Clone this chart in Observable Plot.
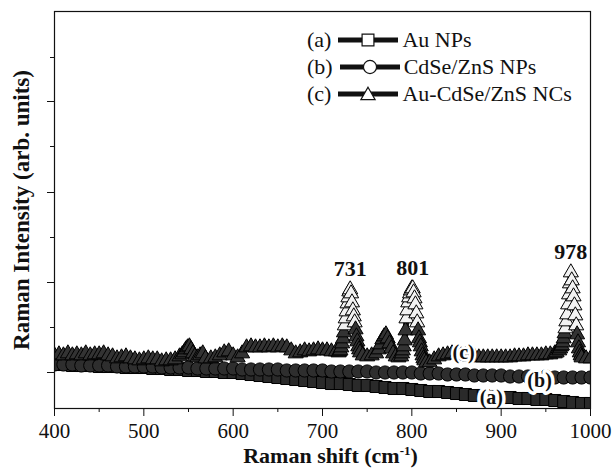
<!DOCTYPE html>
<html><head><meta charset="utf-8">
<script src="https://cdn.jsdelivr.net/npm/d3@7"></script>
<script src="https://cdn.jsdelivr.net/npm/@observablehq/plot@0.6"></script>
<style>
body{margin:0;background:#fff}
#wrap{position:relative;width:613px;height:473px;background:#fff}
#legend{position:absolute;left:307px;top:26px;font-family:'Liberation Serif','Times New Roman',serif;font-size:22px;color:#111}
#legend .row{height:27px;line-height:27px;display:flex;align-items:center;white-space:nowrap}
#legend svg{margin:0 3px 0 6px}
</style>
</head><body><div id="wrap"></div>
<script>
// ---- data ----
const shiftAB = [400,410,420,430,440,450,460,470,480,490,
                 500,510,520,530,540,550,560,570,580,590,
                 600,610,620,630,640,650,660,670,680,690,
                 700,710,720,730,740,750,760,770,780,790,
                 800,810,820,830,840,850,860,870,880,890,
                 900,910,920,930,940,950,960,970,980,990,1000];
const intensityA = [44,44,43,43,43,42,42,42,41,41,
                    41,40,40,39,39,38,38,37,37,36,
                    36,35,34,33,32,31,30,29,28,27,
                    26,25,25,24,23,23,22,21,20,20,
                    19,18,17,17,16,15,14,13,13,12,
                    11,11,10,10,9,9,8,7,6,5,5];
const intensityB = [44,44,44,43,43,43,43,42,42,42,
                    42,42,41,41,41,41,40,40,40,40,
                    40,39,39,39,39,39,38,38,38,38,
                    38,37,37,37,37,37,36,36,36,36,
                    36,35,35,35,34,34,34,33,33,33,
                    33,32,32,32,32,32,31,31,31,31,31];
const spectrumC = [
 [400,53],[405,54],[410,53],[415,55],[420,53],[425,54],[430,53],[435,55],[440,53],[445,54],
 [450,54],[455,55],[460,53],[465,52],[470,50],[475,51],[480,52],[485,50],[490,49],[495,48],
 [500,49],[505,50],[510,49],[515,49],[520,47],[525,48],[530,48],[535,49],[540,52],[543,54],
 [545,56],[547,59],[549,61],[551,62],[553,59],[555,55],[557,52],[560,51],[563,53],[566,55],
 [569,50],[575,50],[580,51],[585,53],[590,56],[595,57],[600,53],[605,51],[610,55],[615,61],
 [620,62],[625,61],[630,61],[635,62],[640,61],[645,62],[650,61],[655,62],[660,61],[665,58],
 [670,55],[675,56],[680,58],[685,57],[690,58],[695,59],[700,58],[705,58],[710,57],[715,57],
 [718,56],[719,57],[720,58],[721,61],[722,65],[723,70],[724,76],[725,83],[726,90],[727,97],
 [728,105],[729,111],[730,117],[731,119],[732,115],[733,106],[734,98],[735,92],[736,86],[737,79],
 [738,72],[739,67],[740,62],[741,59],[742,56],[745,53],[750,52],[755,53],[760,55],[763,59],
 [765,64],[767,69],[769,72],[771,74],[773,70],[775,65],[777,60],[779,55],[782,52],[785,51],
 [788,52],[789,55],[790,58],[791,62],[792,68],[793,78],[794,90],[795,98],[796,106],[797,111],
 [798,115],[799,118],[800,120],[801,120],[802,116],[803,110],[804,104],[805,95],[806,86],[807,78],
 [808,70],[809,66],[810,62],[811,57],[812,53],[813,50],[814,48],[816,46],[820,46],[825,49],
 [830,52],[835,53],[840,54],[845,55],[850,54],[855,53],[860,53],[865,52],[870,52],[875,51],
 [880,51],[885,51],[890,51],[895,51],[900,51],[905,51],[910,51],[915,52],[920,52],[925,52],
 [930,53],[935,53],[940,53],[945,53],[950,54],[955,54],[960,55],[962,56],[965,58],[966,60],
 [967,62],[968,63],[969,66],[970,70],[971,75],[972,80],[973,87],[974,94],[975,104],[976,114],
 [977,125],[978,136],[979,128],[980,120],[981,112],[982,103],[983,93],[984,83],[985,74],[986,66],
 [987,60],[988,56],[989,53],[990,51],[995,50],[1000,50]
];
const peakLabels = [731, 801, 978];
const xTicks = [400,500,600,700,800,900,1000];
const xMinorTicks = [450,550,650,750,850,950];
const yMajorTicks = [36,126,216,307];
const yMinorTicks = [81,171,262,351];
const seriesTags = ["(a)","(b)","(c)"];
const seriesNames = ["Au NPs","CdSe/ZnS NPs","Au-CdSe/ZnS NCs"];
const seriesSymbols = ["square","circle","triangle"];
const xTitle = "Raman shift (cm-1)";
const yTitle = "Raman Intensity (arb. units)";

// ---- tables ----
const dataA = shiftAB.map((x,i)=>({x, y:intensityA[i]}));
const dataB = shiftAB.map((x,i)=>({x, y:intensityB[i]}));
const dataC = spectrumC.map(([x,y])=>({x,y}));
const valAt = (data, x) => data.reduce((b,d)=> Math.abs(d.x-x) < Math.abs(b.x-x) ? d : b).y;
const peakY = p => d3.max(dataC.filter(d=>Math.abs(d.x-p)<=4), d=>d.y);
const baseC = d3.median(dataC, d=>d.y);

const serif = "'Liberation Serif','Times New Roman',serif";
const ink = "#141414";

const plot = Plot.plot({
  width: 613, height: 473,
  marginLeft: 54, marginRight: 23, marginTop: 11, marginBottom: 65,
  x: {domain: [400, 1000]},
  y: {domain: [0, 397]},
  style: {fontFamily: serif, background: "white", color: "black"},
  marks: [
    Plot.line(dataA, {x:"x", y:"y", stroke: ink, strokeWidth: 6, clip: true}),
    Plot.dot(dataA, {x:"x", y:"y", symbol:"square", r: 6.8, fill:"#2a2a2a", stroke:"#000", strokeWidth: 1, clip: true}),
    Plot.line(dataB, {x:"x", y:"y", stroke: ink, strokeWidth: 6, clip: true}),
    Plot.dot(dataB, {x:"x", y:"y", symbol:"circle", r: 6.6, fill:"#2e2e2e", stroke:"#000", strokeWidth: 1, clip: true}),
    Plot.line(dataC, {x:"x", y:"y", stroke: ink, strokeWidth: 6, clip: true}),
    Plot.dot(dataC, {x:"x", y:"y", symbol:"triangle", r: 5.6,
      fill: d => d.y > baseC + 22 ? "#f2f2f2" : "#333", stroke:"#000", strokeWidth: 1, clip: true}),
    // series tags
    Plot.text([seriesTags[0]], {x: 889, y: valAt(dataA, 889), text: d=>d, fontSize: 20, fontWeight: "bold", fill: "#111", stroke: "white", strokeWidth: 7, dy: 1}),
    Plot.text([seriesTags[1]], {x: 943, y: valAt(dataB, 943), text: d=>d, fontSize: 20, fontWeight: "bold", fill: "#111", stroke: "white", strokeWidth: 7, dy: 4}),
    Plot.text([seriesTags[2]], {x: 858, y: valAt(dataC, 858), text: d=>d, fontSize: 20, fontWeight: "bold", fill: "#111", stroke: "white", strokeWidth: 5, dy: -3}),
    // peak labels
    Plot.text(peakLabels, {x: d=>d, y: d=>peakY(d), text: d=>String(d), dy: -21, fontSize: 22, fontWeight: "bold", fill: "#111"}),
    Plot.frame({stroke: "#111", strokeWidth: 1.2}),
    Plot.axisX({ticks: xTicks, tickSize: 8, tickPadding: 7, fontSize: 21, tickFormat: d=>String(d), label: null, stroke: "#111", fill: "#111"}),
    Plot.axisX({ticks: xMinorTicks, tickSize: 4, tickFormat: ()=>"", label: null, stroke: "#111"}),
    Plot.axisY({ticks: yMajorTicks, tickSize: 7, tickFormat: ()=>"", label: null, stroke: "#111"}),
    Plot.axisY({ticks: yMinorTicks, tickSize: 4, tickFormat: ()=>"", label: null, stroke: "#111"}),
    Plot.text([xTitle], {frameAnchor: "bottom", dy: 54, dx: 8, text: d=>d, fontSize: 22, fontWeight: "bold", fill: "#111"}),
    Plot.text([yTitle], {frameAnchor: "left", textAnchor: "middle", rotate: -90, dx: -33, text: d=>d, fontSize: 23, fontWeight: "bold", fill: "#111"})
  ]
});

// superscript for cm-1
d3.select(plot).selectAll("text").filter(function(){ return this.textContent === xTitle; }).each(function(){
  const t = d3.select(this);
  t.text(null);
  t.append("tspan").text("Raman shift (cm");
  t.append("tspan").attr("dy","-8").attr("font-size","13px").text("-1");
  t.append("tspan").attr("dy","8").text(")");
});

const wrap = document.getElementById("wrap");
wrap.appendChild(plot);

// legend overlay
const legend = document.createElement("div");
legend.id = "legend";
const symSize = {square: 140, circle: 135, triangle: 88};
const symType = {square: d3.symbolSquare, circle: d3.symbolCircle, triangle: d3.symbolTriangle};
seriesTags.forEach((tag,i)=>{
  const row = document.createElement("div");
  row.className = "row";
  const a = document.createElement("span"); a.textContent = tag; row.appendChild(a);
  const svg = d3.create("svg").attr("width",62).attr("height",18);
  svg.append("line").attr("x1",1).attr("x2",61).attr("y1",9).attr("y2",9).attr("stroke","#111").attr("stroke-width",5);
  svg.append("path").attr("d", d3.symbol(symType[seriesSymbols[i]], symSize[seriesSymbols[i]])())
     .attr("transform", seriesSymbols[i]==="triangle" ? "translate(31,10.5)" : "translate(31,9)")
     .attr("fill","white").attr("stroke","#111").attr("stroke-width",1.2);
  row.appendChild(svg.node());
  const b = document.createElement("span"); b.textContent = seriesNames[i]; row.appendChild(b);
  legend.appendChild(row);
});
wrap.appendChild(legend);
</script>
</body></html>
